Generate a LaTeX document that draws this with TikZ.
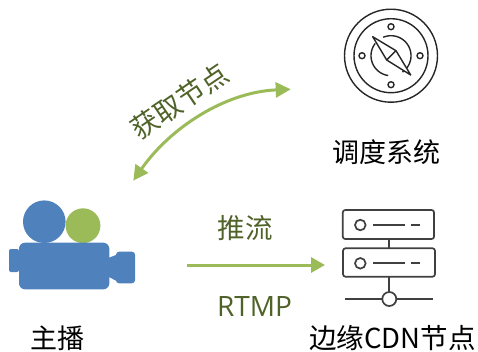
\documentclass[tikz,border=0pt]{standalone}
\usepackage{fontspec}
\setmainfont{Noto Sans CJK SC}
\newfontfamily\latinlab{Open Sans}
\usetikzlibrary{arrows.meta}
\definecolor{capblue}{HTML}{4F81BD}
\definecolor{capgreen}{HTML}{9BBB59}
\definecolor{labgreen}{HTML}{4F6228}
\definecolor{icon}{HTML}{404040}
\tikzset{
  x=1pt,y=-1pt,
  lab/.style={font=\fontsize{27pt}{30pt}\selectfont,text=black,inner sep=0pt},
  glab/.style={font=\fontsize{27.5pt}{30pt}\selectfont,text=labgreen,inner sep=0pt},
  flow/.style={draw=capgreen,line width=3pt,-{Triangle[length=14pt,width=15pt]}},
  flowb/.style={draw=capgreen,line width=3pt,{Triangle[length=15pt,width=15pt]}-{Triangle[length=15pt,width=15pt]}},
  ico/.style={draw=icon,line width=1.7pt},
  comp/.style={draw=black!85,line width=1.4pt},
  srv/.style={ico,fill=white,rounded corners=2.5pt,rectangle,inner sep=0pt},
  cam/.style={fill=capblue}
}
\begin{document}
\begin{tikzpicture}
\useasboundingbox (0,0) rectangle (478,351);
% compass
\coordinate (cc) at (391,55.7);
\draw[comp] (cc) circle (46.5);
\draw[comp] (cc) circle (37);
\draw[comp] plot[domain=-113:55,samples=40] ({391+20*cos(\x)},{55.7+20*sin(\x)});
\draw[comp] plot[domain=98:218,samples=30] ({391+20*cos(\x)},{55.7+20*sin(\x)});
\foreach \dx/\dy in {0/-29,0/29,-29/0,29/0}
  \draw[comp] (391+\dx,55.7+\dy) circle (3);
\draw[comp,fill=white,line join=round] (372.7,36.7) -- (396,50.7) -- (410.7,75) -- (386.7,60) -- cycle;
\draw[comp] (396,50.7) -- (386.7,60);
\node[lab] (sched) at (386,152) {调度系统};
% server
\draw[ico] (389.3,239) -- (389.3,248.3);
\draw[ico] (389.3,276.7) -- (389.3,292);
\draw[ico] (345,299) -- (433,299);
\node[srv,minimum width=91.3pt,minimum height=29pt] (b1) at (388.4,224.5) {};
\node[srv,minimum width=92pt,minimum height=28.4pt] (b2) at (389,262.5) {};
\draw[ico,fill=white] (389.3,299) circle (7);
\draw[ico] (360.3,225) circle (5.3);
\draw[ico,line width=2.2pt] (373,225) -- (405,225) (411,225) -- (420,225);
\draw[ico] (360.3,263.3) circle (5.3);
\draw[ico,line width=2.2pt] (373,263.3) -- (405,263.3) (411,263.3) -- (420,263.3);
\node[lab,font=\fontsize{27.5pt}{30pt}\selectfont] (edge) at (392.5,338) {边缘CDN节点};
% camera
\fill[cam] (44.3,221.7) circle (21.3);
\fill[capgreen] (83,225.7) circle (17.4);
\fill[cam,rounded corners=2pt] (19,249) -- (9,249) -- (9,272) -- (19,272) -- cycle;
\fill[cam] (109,257.7) -- (116,255) -- (116,280.7) -- (109,277) -- cycle;
\fill[cam,rounded corners=3pt] (116,251.7) rectangle (135,283.3);
\fill[cam,rounded corners=6pt] (19,242.7) rectangle (109.3,289.3);
\node[lab] (host) at (57,338) {主播};
% arrows
\coordinate (a1) at (133.3,180.7);
\coordinate (a2) at (290.7,89.3);
\draw[flowb] (a1) .. controls (170,128) and (225,92) .. (a2);
\node[glab,rotate=34] (get) at (179.5,101) {获取节点};
\coordinate (p1) at (187,265);
\coordinate (p2) at (325,265);
\draw[flow] (p1) -- (p2);
\node[glab] (push) at (245,228) {推流};
\node[glab,font=\latinlab\fontsize{28pt}{30pt}\selectfont] (rtmp) at (254.5,306) {RTMP};
\end{tikzpicture}
\end{document}
